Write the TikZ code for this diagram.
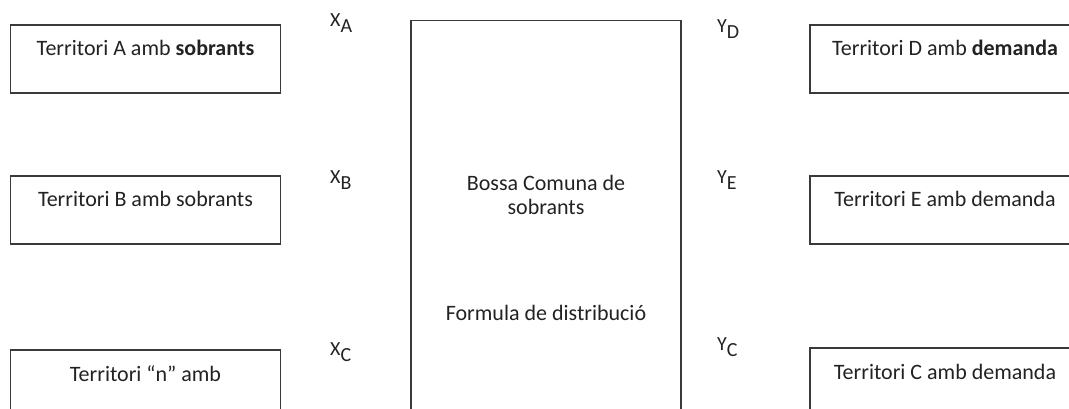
\documentclass[tikz,border=0pt]{standalone}
\usepackage{fontspec}
\setmainfont{Carlito}
\usetikzlibrary{positioning}
\definecolor{ink}{HTML}{222222}
\definecolor{frame}{HTML}{3A3A3A}

\begin{document}
\begin{tikzpicture}[
  x=1pt, y=-1pt,
  font=\fontsize{22}{24}\selectfont,
  text=ink,
  territ/.style={draw=frame,line width=1.5pt,minimum width=270pt,
    inner sep=0pt,text height=31pt,text depth=37pt},
  flux/.style={font=\fontsize{20}{22}\selectfont,anchor=base west,inner sep=0pt}
]
  \useasboundingbox (0,0) rectangle (1069,409);
  \clip (0,0) rectangle (1069,409);

  % territoris amb sobrants
  \node[territ] (terrA) at (145.5,59) {Territori A amb \textbf{sobrants}};
  \node[territ] (terrB) at (145.5,210) {Territori B amb sobrants};
  \node[territ] (terrN) at (145.5,384) {Territori “n” amb};

  \node[flux] (xA) at (330,27) {X\raisebox{-6pt}{A}};
  \node[flux] (xB) at (330,183) {X\raisebox{-6pt}{B}};
  \node[flux] (xC) at (330,355) {X\raisebox{-6pt}{C}};

  % bossa comuna
  \node[draw=frame,line width=1.5pt,minimum width=270pt,minimum height=440pt,
    anchor=north] (bossa) at (546,20) {};
  \node[align=center] (bossaTxt) at (546,195) {Bossa Comuna de\\sobrants};
  \node (formula) at (546,313) {Formula de distribució};

  % territoris amb demanda
  \node[flux] (yD) at (717,33) {Y\raisebox{-6pt}{D}};
  \node[flux] (yE) at (717,183) {Y\raisebox{-6pt}{E}};
  \node[flux] (yC) at (717,350) {Y\raisebox{-6pt}{C}};

  \node[territ] (terrD) at (945,59) {Territori D amb \textbf{demanda}};
  \node[territ] (terrE) at (945,210) {Territori E amb demanda};
  \node[territ] (terrC) at (945,382) {Territori C amb demanda};
\end{tikzpicture}
\end{document}
